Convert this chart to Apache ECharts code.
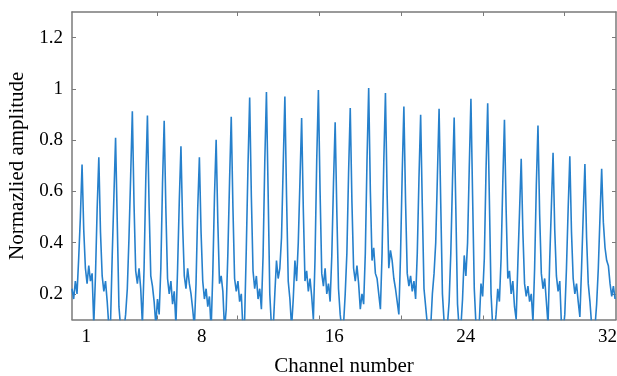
<!DOCTYPE html>
<html>
<head>
<meta charset="utf-8">
<script src="https://cdn.jsdelivr.net/npm/echarts@6/dist/echarts.min.js"></script>
<style>
	html, body { margin: 0; padding: 0; background: #fff; }
	#chart { width: 617px; height: 376px; }
</style>
</head>
<body>
<div id="chart"></div>
<script>
const sampleStart = 0.385; // channel position of the first sample
const sampleStep = 0.1;
const amplitude = [
	0.22, 0.18, 0.25, 0.20, 0.34, 0.50,
	0.705, 0.45, 0.30, 0.24, 0.31, 0.25, 0.28, 0.08, 0.27, 0.53, // ch 1
	0.733, 0.44, 0.27, 0.21, 0.25, 0.17, 0.07, 0.09, 0.35, 0.58, // ch 2
	0.809, 0.48, 0.15, 0.07, 0.05, 0.06, 0.12, 0.22, 0.42, 0.66, // ch 3
	0.913, 0.55, 0.29, 0.24, 0.30, 0.22, 0.08, 0.30, 0.64, // ch 4
	0.896, 0.54, 0.27, 0.23, 0.17, 0.08, 0.18, 0.12, 0.30, 0.63, // ch 5
	0.876, 0.53, 0.26, 0.20, 0.25, 0.16, 0.21, 0.08, 0.30, 0.56, // ch 6
	0.776, 0.47, 0.27, 0.22, 0.30, 0.24, 0.20, 0.14, 0.07, 0.24, 0.53, // ch 7
	0.733, 0.44, 0.25, 0.18, 0.22, 0.15, 0.19, 0.06, 0.28, 0.58, // ch 8
	0.801, 0.48, 0.24, 0.27, 0.21, 0.06, 0.14, 0.36, 0.64, // ch 9
	0.891, 0.54, 0.26, 0.21, 0.25, 0.17, 0.20, 0.06, 0.10, 0.38, 0.70, // ch 10
	0.966, 0.58, 0.29, 0.22, 0.27, 0.18, 0.22, 0.14, 0.35, 0.71, // ch 11
	0.988, 0.60, 0.20, 0.07, 0.06, 0.20, 0.33, 0.26, 0.30, 0.42, 0.70, // ch 12
	0.970, 0.58, 0.25, 0.18, 0.07, 0.18, 0.33, 0.25, 0.40, 0.64, // ch 13
	0.886, 0.53, 0.25, 0.29, 0.21, 0.26, 0.19, 0.10, 0.34, 0.72, // ch 14
	0.996, 0.60, 0.28, 0.23, 0.30, 0.20, 0.24, 0.17, 0.35, 0.63, // ch 15
	0.870, 0.52, 0.22, 0.12, 0.06, 0.08, 0.20, 0.36, 0.67, // ch 16
	0.925, 0.56, 0.30, 0.25, 0.31, 0.24, 0.14, 0.20, 0.16, 0.36, 0.72, // ch 17
	1.003, 0.60, 0.33, 0.38, 0.28, 0.26, 0.20, 0.14, 0.36, 0.71, // ch 18
	0.984, 0.59, 0.30, 0.37, 0.33, 0.26, 0.22, 0.17, 0.12, 0.35, 0.67, // ch 19
	0.931, 0.56, 0.28, 0.23, 0.27, 0.21, 0.25, 0.18, 0.36, 0.65, // ch 20
	0.899, 0.54, 0.22, 0.15, 0.08, 0.05, 0.07, 0.20, 0.28, 0.40, 0.66, // ch 21
	0.922, 0.55, 0.20, 0.09, 0.05, 0.08, 0.17, 0.36, 0.64, // ch 22
	0.888, 0.53, 0.16, 0.06, 0.07, 0.18, 0.35, 0.27, 0.40, 0.69, // ch 23
	0.961, 0.58, 0.22, 0.08, 0.05, 0.09, 0.24, 0.19, 0.34, 0.68, // ch 24
	0.944, 0.57, 0.20, 0.07, 0.05, 0.12, 0.22, 0.17, 0.34, 0.63, // ch 25
	0.879, 0.53, 0.26, 0.29, 0.20, 0.25, 0.15, 0.10, 0.32, 0.52, // ch 26
	0.727, 0.44, 0.24, 0.19, 0.23, 0.17, 0.20, 0.09, 0.30, 0.62, // ch 27
	0.857, 0.51, 0.28, 0.22, 0.26, 0.17, 0.08, 0.33, 0.54, // ch 28
	0.751, 0.45, 0.27, 0.21, 0.25, 0.08, 0.05, 0.12, 0.30, 0.53, // ch 29
	0.737, 0.44, 0.26, 0.20, 0.24, 0.17, 0.11, 0.30, 0.51, // ch 30
	0.707, 0.42, 0.24, 0.17, 0.08, 0.05, 0.07, 0.16, 0.30, 0.50, // ch 31
	0.688, 0.48, 0.38, 0.33, 0.31, 0.24, 0.19, 0.23, 0.18, // ch 32
];

// axis stuff
const yTicks = [0.2, 0.4, 0.6, 0.8, 1.0, 1.2];
const channelLabels = ['1', '8', '16', '24', '32'];
const channelLabelPos = [1.24, 8.12, 16.03, 23.88, 32.34]; // hand placed in the figure
const frameTicks = [5.45, 10.23, 15.12, 20.0, 24.9, 29.74];

const serif = 'Liberation Serif';
const frameColor = '#7a7a7a';

const points = amplitude.map((v, i) => [sampleStart + i * sampleStep, v]);

const chart = echarts.init(document.getElementById('chart'), null, { renderer: 'canvas' });

const xCommon = {
	type: 'value',
	min: 0.385,
	max: 32.84,
	splitLine: { show: false },
	axisLine: { show: true, lineStyle: { color: frameColor, width: 1.5 } },
	axisTick: { show: true, inside: true, length: 4, customValues: frameTicks, lineStyle: { color: frameColor } },
};
const yCommon = {
	type: 'value',
	min: 0.1,
	max: 1.3,
	splitLine: { show: false },
	axisLine: { show: true, lineStyle: { color: frameColor, width: 1.5 } },
	axisTick: { show: true, inside: true, length: 4, customValues: yTicks, lineStyle: { color: frameColor } },
};

chart.setOption({
	backgroundColor: '#fff',
	animation: false,
	// fixed box, labels may run off the edge like in the figure
	grid: { left: 72, right: 1, top: 12, bottom: 56.5, outerBoundsMode: 'none' },
	xAxis: [
		{
			...xCommon,
			position: 'bottom',
			name: 'Channel number',
			nameLocation: 'middle',
			nameGap: 36,
			nameTextStyle: { fontFamily: serif, fontSize: 21, color: '#000' },
			axisLabel: {
				customValues: channelLabelPos,
				formatter: (v) => channelLabels[channelLabelPos.indexOf(v)],
				fontFamily: serif,
				fontSize: 19,
				color: '#000',
				margin: 8,
			},
		},
		{
			...xCommon,
			position: 'top',
			axisLabel: { show: false },
		},
	],
	yAxis: [
		{
			...yCommon,
			position: 'left',
			name: 'Normazlied amplitude',
			nameLocation: 'middle',
			nameRotate: 90,
			nameGap: 44,
			nameTextStyle: { fontFamily: serif, fontSize: 21, color: '#000' },
			axisLabel: {
				customValues: yTicks,
				formatter: (v) => String(+v.toFixed(1)),
				fontFamily: serif,
				fontSize: 19,
				color: '#000',
				margin: 9,
			},
		},
		{
			...yCommon,
			position: 'right',
			axisLabel: { show: false },
		},
	],
	series: [
		{
			type: 'line',
			data: points,
			showSymbol: false,
			clip: true,
			lineStyle: { color: '#2680cc', width: 1.6 },
		},
	],
});
</script>
</body>
</html>
